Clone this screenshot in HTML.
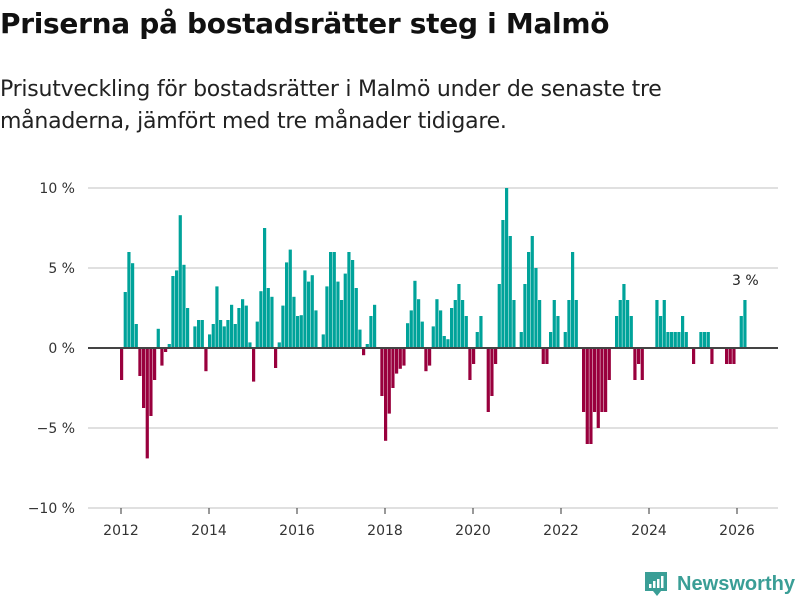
<!DOCTYPE html>
<html><head><meta charset="utf-8">
<style>
body{margin:0;background:#fff;font-family:"DejaVu Sans","Liberation Sans",sans-serif;}
#wrap{position:relative;width:800px;height:600px;overflow:hidden;}
h1{position:absolute;left:0;top:7px;margin:0;font-size:28px;font-weight:bold;color:#111;font-family:"DejaVu Sans","Liberation Sans",sans-serif;letter-spacing:-0.3px;white-space:nowrap;}
.sub{position:absolute;left:0;top:74px;margin:0;font-size:22px;line-height:32px;color:#222;font-family:"DejaVu Sans","Liberation Sans",sans-serif;letter-spacing:-0.25px;white-space:nowrap;}
svg text{font-family:"DejaVu Sans","Liberation Sans",sans-serif;}
</style></head><body>
<div id="wrap">
<h1>Priserna på bostadsrätter steg i Malmö</h1>
<p class="sub">Prisutveckling för bostadsrätter i Malmö under de senaste tre<br>månaderna, jämfört med tre månader tidigare.</p>
<svg id="chart" width="800" height="600" style="position:absolute;left:0;top:0"></svg>
</div>
<script>
const startYear = 2012;
const values = [
-2.0,3.5,6.0,5.3,1.5,-1.75,-3.75,-6.9,-4.25,-2.0,1.2,-1.1,
-0.25,0.25,4.5,4.85,8.3,5.2,2.5,0,1.35,1.75,1.75,-1.45,
0.85,1.5,3.85,1.75,1.35,1.75,2.7,1.5,2.5,3.05,2.65,0.35,
-2.1,1.65,3.55,7.5,3.75,3.2,-1.25,0.35,2.65,5.35,6.15,3.2,
2.0,2.05,4.85,4.15,4.55,2.35,0,0.85,3.85,6.0,6.0,4.15,
3.0,4.65,6.0,5.5,3.75,1.15,-0.45,0.25,2.0,2.7,0,-3.0,
-5.8,-4.1,-2.5,-1.6,-1.3,-1.1,1.55,2.35,4.2,3.05,1.65,-1.45,
-1.1,1.35,3.05,2.35,0.75,0.55,2.5,3.0,4.0,3.0,2.0,-2.0,
-1,1,2,0,-4,-3,-1,4,8,10,7,3,
0,1,4,6,7,5,3,-1,-1,1,3,2,
0,1,3,6,3,0,-4,-6,-6,-4,-5,-4,
-4,-2,0,2,3,4,3,2,-2,-1,-2,0,
0,0,3,2,3,1,1,1,1,2,1,0,
-1,0,1,1,1,-1,0,0,0,-1,-1,-1,
0,2,3];
const yTicks = [10,5,0,-5,-10];
const xTicks = [2012,2014,2016,2018,2020,2022,2024,2026];
const lastLabel = "3 %";

const svg = document.getElementById('chart');
const NS = 'http://www.w3.org/2000/svg';
const xS = t => 121 + (t - 2012) * 44;
const yS = v => 348 - v * 16;
function mk(tag, attrs, parent){const e=document.createElementNS(NS,tag);for(const k in attrs)e.setAttribute(k,attrs[k]);(parent||svg).appendChild(e);return e;}

yTicks.forEach(v=>{
  if(v!==0){const g=mk('line',{x1:88,x2:778,y1:yS(v),y2:yS(v),stroke:'#e0e0e0','stroke-width':2});
  
  }
  const t=mk('text',{x:75,y:yS(v)+5,'text-anchor':'end','font-size':14,fill:'#333'});
  t.textContent=(v<0?'−'+(-v):v)+' %';
  
  
});
xTicks.forEach(y=>{
  const l=mk('line',{x1:xS(y),x2:xS(y),y1:508,y2:514,stroke:'#333','stroke-width':1});
  
  
  const t=mk('text',{x:xS(y),y:535,'text-anchor':'middle','font-size':14,fill:'#333'});
  t.textContent=y;
  
  
});
values.forEach((v,i)=>{
  const t=startYear+i/12;
  const y0=yS(0), y1=yS(v);
  const r=mk('rect',{x:xS(t)-1,y:Math.min(y0,y1),width:3.2,height:Math.abs(y1-y0),fill:v>=0?'#00a39a':'#99003d'});
  
  
});
const z=mk('line',{x1:88,x2:778,y1:348,y2:348,stroke:'#444','stroke-width':2});


const li=values.length-1;
const lt=mk('text',{x:xS(startYear+li/12)+1,y:yS(values[li])-15,'text-anchor':'middle','font-size':14,fill:'#222'});
lt.textContent=lastLabel;



// logo
const lg=mk('g',{});


mk('path',{d:'M645 572 h22 v19 h-6 l-4 5 l-4 -5 h-8 z',fill:'#3a9e96'},lg);
mk('rect',{x:649,y:584,width:2.5,height:4,fill:'#fff'},lg);
mk('rect',{x:653,y:581,width:2.5,height:7,fill:'#fff'},lg);
mk('rect',{x:657,y:579,width:2.5,height:9,fill:'#fff'},lg);
mk('rect',{x:661,y:576,width:2.5,height:12,fill:'#fff'},lg);
const lt2=mk('text',{x:677,y:590,'font-size':20,'font-weight':'bold',fill:'#3a9e96',textLength:118,lengthAdjust:'spacingAndGlyphs'},lg);
lt2.setAttribute('style','font-family:"Liberation Sans",sans-serif');
lt2.textContent='Newsworthy';
</script>
</body></html>
